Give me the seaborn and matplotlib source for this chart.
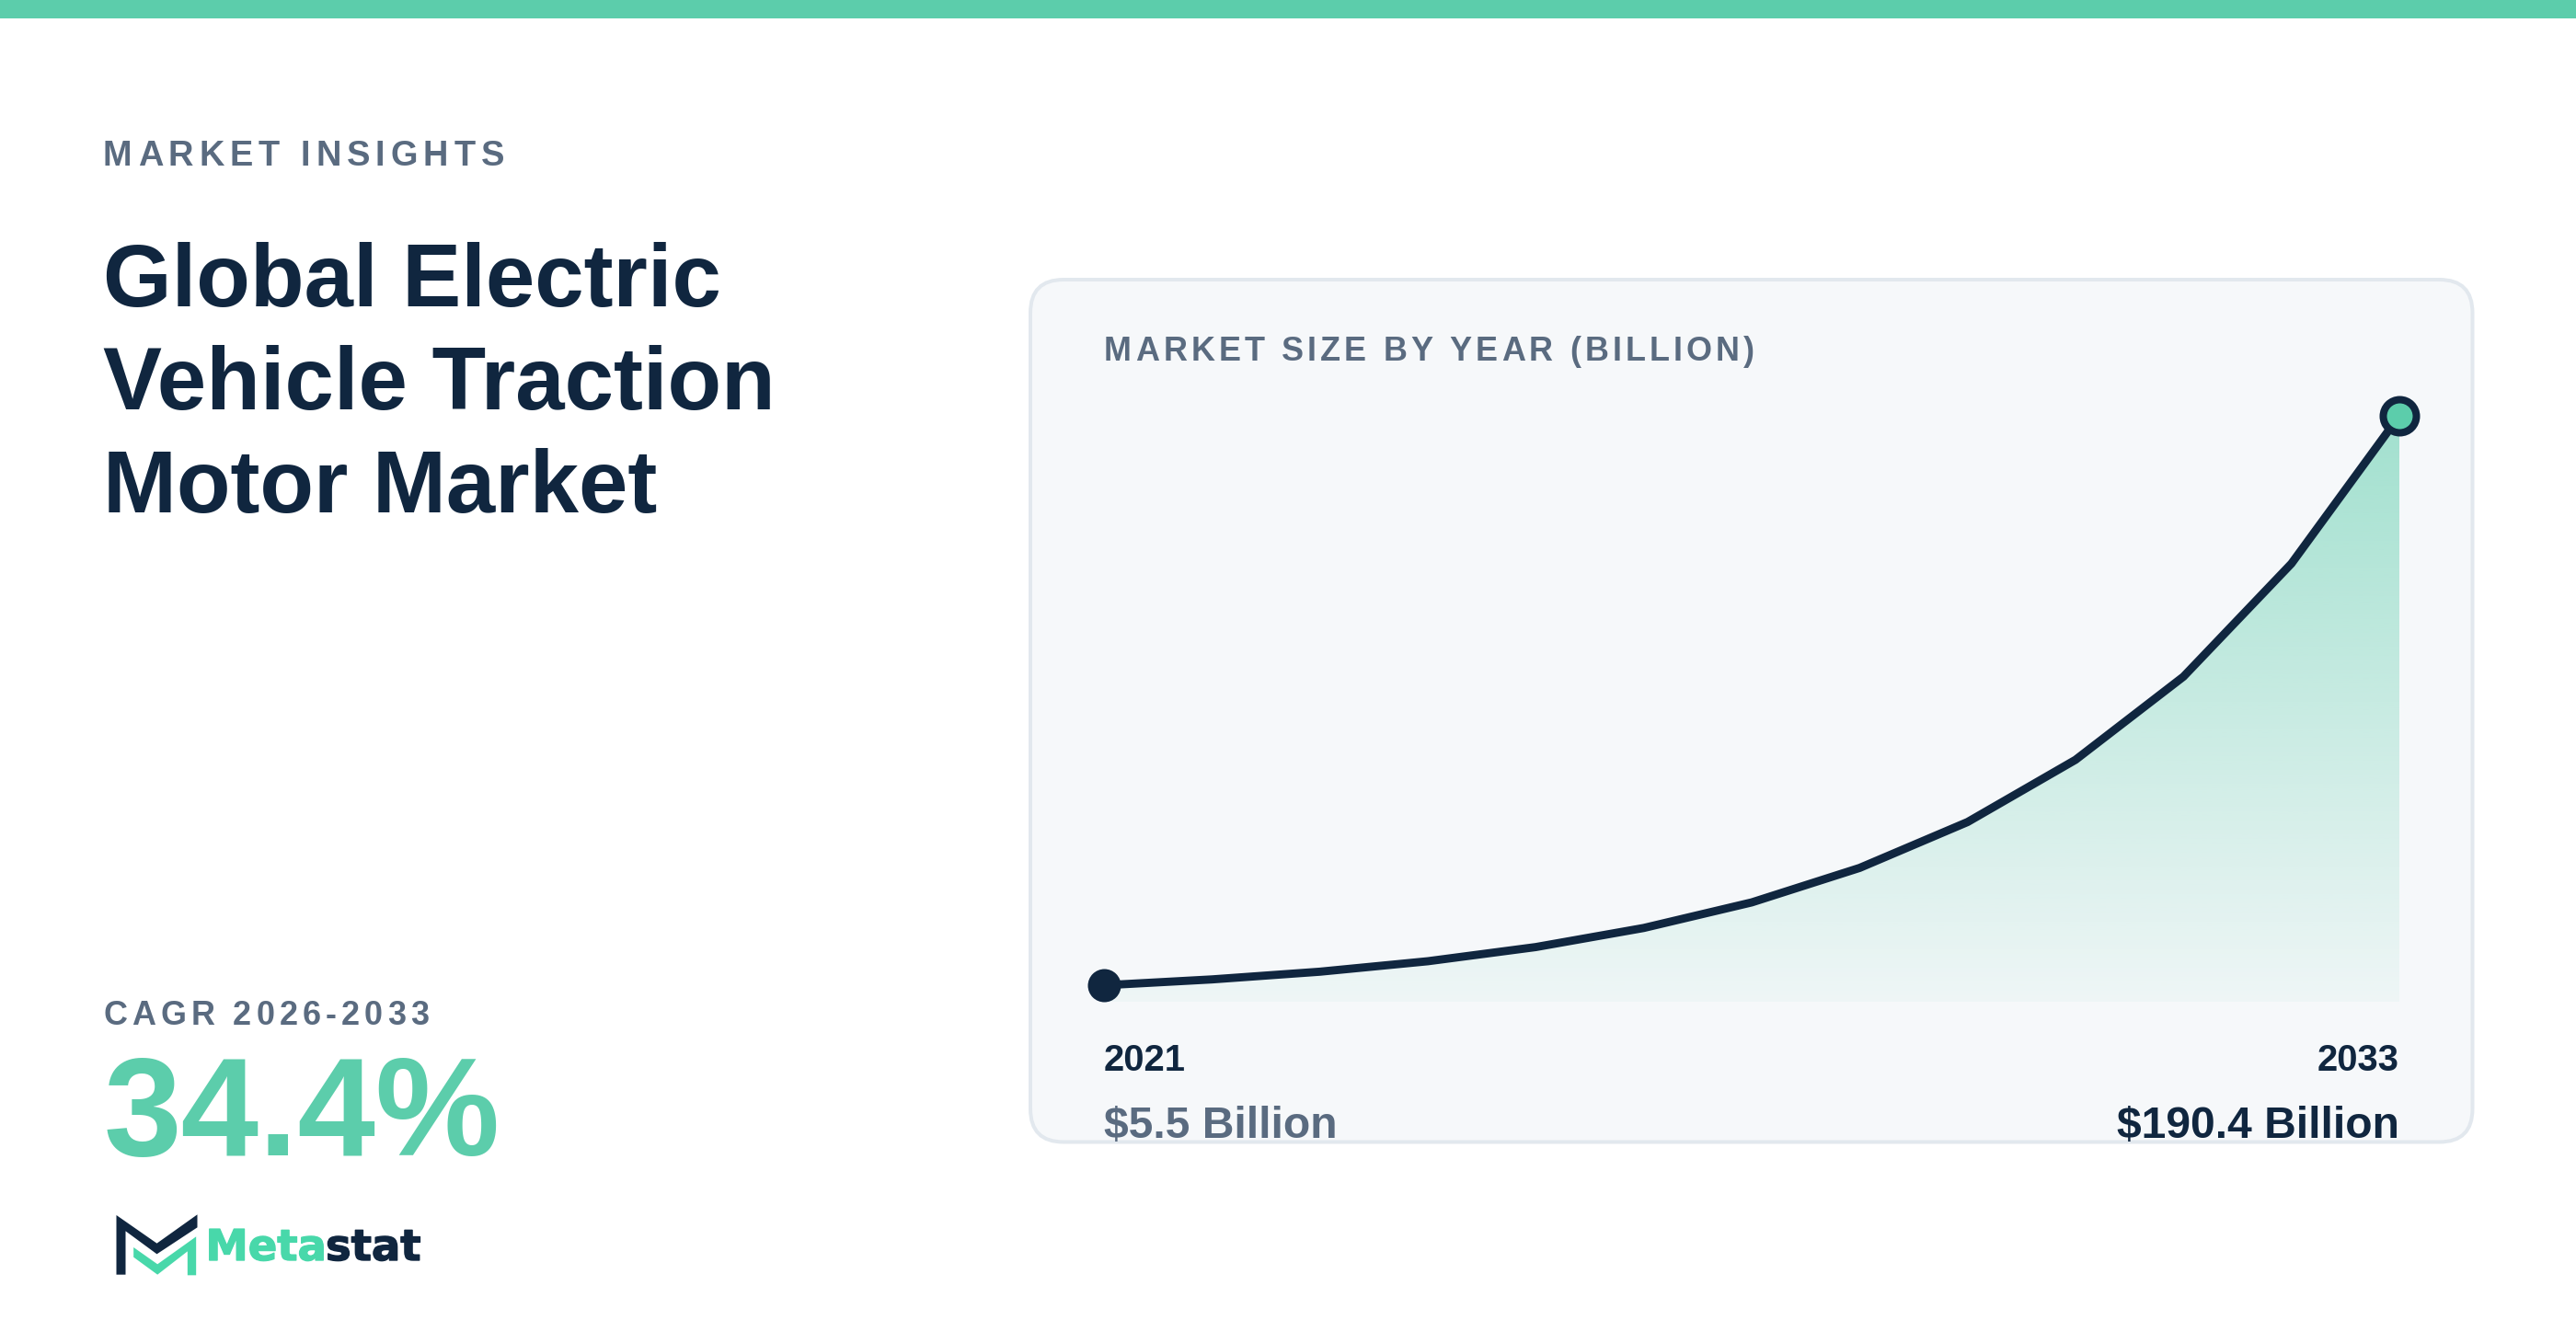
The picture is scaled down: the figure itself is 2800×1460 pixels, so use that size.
import numpy as np
import pandas as pd
import matplotlib
matplotlib.use("Agg")
import matplotlib.pyplot as plt
import seaborn as sns
from matplotlib.colors import to_rgb
from matplotlib.font_manager import findfont, get_font
from matplotlib.ft2font import LoadFlags
from matplotlib.patches import FancyBboxPatch, Polygon, Rectangle
from matplotlib.text import Text
import matplotlib.patheffects as pe

# values
years = [2021, 2022, 2023, 2024, 2025, 2026, 2027, 2028, 2029, 2030, 2031, 2032, 2033]
market_size = [5.5, 7.4, 9.9, 13.3, 17.9, 24.1, 32.4, 43.6, 58.5, 78.7, 105.7, 142.4, 190.4]
title_lines = ["Global Electric", "Vehicle Traction", "Motor Market"]
start_label = "2021"
end_label = "2033"
start_value = "$5.5 Billion"
end_value = "$190.4 Billion"

NAVY = "#10263f"
GREEN = "#5ccdab"
LOGO_GREEN = "#48d8aa"
GREY = "#5a6b80"
CARD = "#f6f8fa"
BORDER = "#e2e8ee"
W, H = 2800, 1460


def px(size):
    # font size in pixels -> points at dpi 200
    return size * 72 / 200


class SpacedText(Text):
    # matplotlib has no letter spacing, so draw glyph by glyph
    def __init__(self, *args, spacing=0, **kwargs):
        super().__init__(*args, **kwargs)
        self.spacing = spacing

    def draw(self, renderer):
        prop = self.get_fontproperties()
        font = get_font(findfont(prop))
        font.set_size(prop.get_size_in_points(), renderer.dpi)
        x, y = self.get_transform().transform(self.get_position())
        gc = renderer.new_gc()
        gc.set_foreground(self.get_color())
        for ch in self.get_text():
            renderer.draw_text(gc, x, renderer.height - y, ch, prop, 0)
            glyph = font.load_char(ord(ch), flags=LoadFlags.NO_HINTING)
            x += glyph.linearHoriAdvance / 65536 + self.spacing
        gc.restore()


sns.set_theme(style="white")
plt.rcParams["font.family"] = ["Liberation Sans", "DejaVu Sans"]

fig = plt.figure(figsize=(14, 7.3), dpi=200, facecolor="white")

# background layer in pixel coordinates for the layout
bg = fig.add_axes([0, 0, 1, 1])
bg.set_xlim(0, W)
bg.set_ylim(H, 0)
bg.axis("off")
bg.add_patch(Rectangle((0, 0), W, 20, color=GREEN, lw=0))
bg.add_patch(FancyBboxPatch((1156, 340), 1495.5, 865.5, boxstyle="round,pad=36,rounding_size=36",
                            fc=CARD, ec=BORDER, lw=1.44))


def spaced(x, y, s, size, color, spacing):
    t = SpacedText(x, y, s, spacing=spacing, fontsize=px(size), color=color, fontweight="bold",
                   va="baseline", transform=bg.transData)
    bg.add_artist(t)
    return t


def label(x, y, s, size, color, ha="left"):
    return bg.text(x, y, s, fontsize=px(size), color=color, fontweight="bold", ha=ha, va="baseline")


spaced(112, 180.5, "MARKET INSIGHTS", 38, GREY, 5.95)
for line, y in zip(title_lines, [332.5, 445, 557.5]):
    label(112.5, y, line, 96, NAVY)
spaced(112, 1114, "CAGR 2026-2033", 36, GREY, 5.05)
label(112.5, 1255.5, "34.4%", 152, GREEN)
spaced(1200, 392.5, "MARKET SIZE BY YEAR (BILLION)", 36, GREY, 4.1)
label(1200, 1164.5, start_label, 40, NAVY)
label(2608, 1164.5, end_label, 40, NAVY, ha="right")
label(1200, 1237, start_value, 48, GREY)
label(2608, 1237, end_value, 48, NAVY, ha="right")

# logo
dark = [(48, 60), (180, 152), (312, 58), (312, 100), (180, 187), (78, 112), (78, 254), (48, 254)]
light = [(104, 165), (182, 220), (308, 130), (308, 256), (280, 256), (280, 178), (182, 254), (104, 197)]
for pts, col in [(dark, NAVY), (light, LOGO_GREEN)]:
    bg.add_patch(Polygon([(110.5 + a / 3, 1301 + b / 3) for a, b in pts], closed=True, fc=col, lw=0))
t1 = bg.text(223.5, 1370, "Meta", fontsize=px(46.5), color=LOGO_GREEN, fontweight="bold", family="DejaVu Sans", va="baseline")
t2 = bg.text(354, 1370, "stat", fontsize=px(46.5), color=NAVY, fontweight="bold", family="DejaVu Sans", va="baseline")
t1.set_path_effects([pe.withStroke(linewidth=0.5, foreground=LOGO_GREEN)])
t2.set_path_effects([pe.withStroke(linewidth=0.5, foreground=NAVY)])

# chart, axes placed so that the year and value range fill the plot area
left, right, top, bottom = 1200, 2608, 452, 1089.5
ax = fig.add_axes([left / W, 1 - bottom / H, (right - left) / W, (bottom - top) / H])
ax.patch.set_alpha(0)
df = pd.DataFrame({"year": years, "size": market_size})

fill = ax.fill_between(df["year"], df["size"], 0, color="none", lw=0)
rgba = np.ones((256, 1, 4))
rgba[..., :3] = to_rgb(GREEN)
rgba[:, 0, 3] = np.linspace(0.55, 0.05, 256)
img = ax.imshow(rgba, extent=[years[0], years[-1], 0, market_size[-1]], origin="upper",
                aspect="auto", interpolation="bilinear", zorder=1)
img.set_clip_path(fill.get_paths()[0], transform=ax.transData)

sns.lineplot(data=df, x="year", y="size", color=NAVY, lw=3.2, ax=ax, zorder=2,
             errorbar=None, clip_on=False, solid_joinstyle="miter")
sns.scatterplot(data=df.iloc[[0]], x="year", y="size", color=NAVY, s=(px(36)) ** 2,
                linewidth=0, ax=ax, zorder=3, clip_on=False)
sns.scatterplot(data=df.iloc[[-1]], x="year", y="size", color=GREEN, s=(px(36)) ** 2,
                edgecolor=NAVY, linewidth=px(8), ax=ax, zorder=3, clip_on=False)
ax.set_xlim(years[0], years[-1])
ax.set_ylim(0, market_size[-1])
ax.axis("off")

fig.savefig("out.png", dpi=200, facecolor="white")
